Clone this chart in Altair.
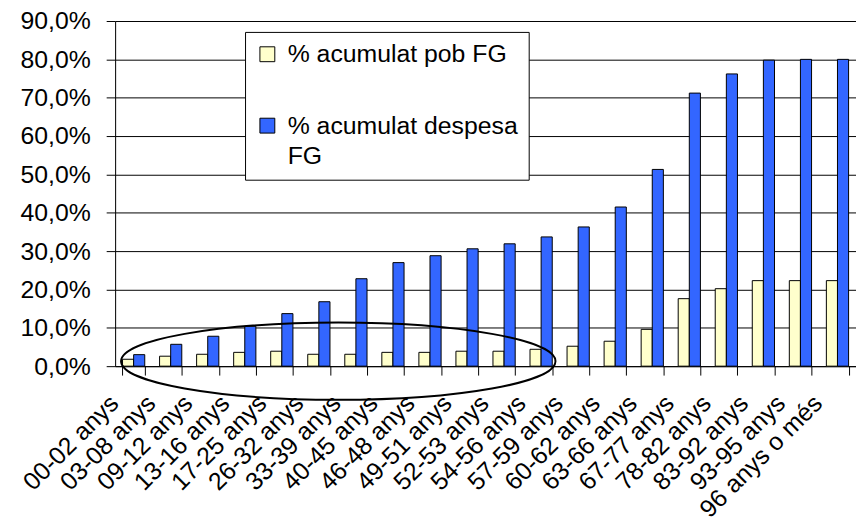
import altair as alt
import pandas as pd

categories = ["00-02 anys", "03-08 anys", "09-12 anys", "13-16 anys", "17-25 anys",
              "26-32 anys", "33-39 anys", "40-45 anys", "46-48 anys", "49-51 anys",
              "52-53 anys", "54-56 anys", "57-59 anys", "60-62 anys", "63-66 anys",
              "67-77 anys", "78-82 anys", "83-92 anys", "93-95 anys", "96 anys o més"]
pob_fg = [1.8, 2.6, 3.1, 3.6, 3.9, 3.1, 3.1, 3.6, 3.6, 3.9,
          3.9, 4.4, 5.2, 6.5, 9.6, 17.6, 20.2, 22.3, 22.3, 22.3]
despesa_fg = [3.0, 5.7, 7.8, 10.4, 13.7, 16.8, 22.8, 27.0, 28.8, 30.6,
              31.9, 33.7, 36.3, 41.5, 51.3, 71.2, 76.2, 79.8, 80.0, 80.0]
series_names = ["% acumulat pob FG", "% acumulat despesa FG"]
series_colors = ["#FFFFCC", "#3366FF"]
y_ticks = [0, 10, 20, 30, 40, 50, 60, 70, 80, 90]

rows = []
for c, p, d in zip(categories, pob_fg, despesa_fg):
    rows.append({"cat": c, "serie": series_names[0], "val": p})
    rows.append({"cat": c, "serie": series_names[1], "val": d})
df = pd.DataFrame(rows)

FONT = "Liberation Sans"

bars = alt.Chart(df).mark_bar(stroke="black", strokeWidth=1).encode(
    x=alt.X("cat:N", sort=categories, title=None,
            scale=alt.Scale(paddingInner=0.4, paddingOuter=0.2),
            axis=alt.Axis(labelAngle=-45, labelAlign="right", labelBaseline="middle",
                          labelPadding=24, labelOffset=-20, tickBand="extent",
                          tickSize=9, tickColor="black", tickWidth=1,
                          domainColor="black", domainWidth=1, grid=False,
                          labelFontSize=25, labelFont=FONT, labelColor="black",
                          labelOverlap=False, labelLimit=400)),
    xOffset=alt.XOffset("serie:N", sort=series_names,
                        scale=alt.Scale(domain=series_names, paddingInner=0, paddingOuter=0)),
    y=alt.Y("val:Q", title=None, scale=alt.Scale(domain=[0, 90], nice=False),
            axis=alt.Axis(values=y_ticks,
                          labelExpr="replace(format(datum.value, '.1f'), '.', ',') + '%'",
                          tickSize=9, tickColor="black", tickWidth=1,
                          domainColor="black", domainWidth=1,
                          grid=True, gridColor="black", gridWidth=1, gridOpacity=1,
                          labelPadding=16, labelFontSize=25, labelFont=FONT,
                          labelColor="black")),
    color=alt.Color("serie:N", sort=series_names,
                    scale=alt.Scale(domain=series_names, range=series_colors),
                    legend=alt.Legend(
                        title=None, orient="none", legendX=131, legendY=11,
                        fillColor="white", strokeColor="black",
                        padding=10, cornerRadius=0,
                        symbolType="square", symbolSize=225,
                        symbolStrokeColor="black", symbolStrokeWidth=1,
                        symbolOpacity=1,
                        labelFont=FONT, labelFontSize=25, labelColor="black",
                        labelLimit=400, labelOffset=8, rowPadding=46,
                        labelExpr="datum.label == '% acumulat despesa FG' ? ['% acumulat despesa', 'FG'] : datum.label")),
)

ellipse_df = pd.DataFrame({"k": [0]})
ellipse = alt.Chart(ellipse_df).mark_point(
    shape="M -1 0 A 1 0.178 0 1 1 1 0 A 1 0.178 0 1 1 -1 0 Z",
    size=191844, filled=False, color="black", strokeWidth=2, opacity=1,
).encode(x=alt.value(225), y=alt.value(343))

chart = alt.layer(bars, ellipse).properties(
    width=747, height=348,
    autosize=alt.AutoSizeParams(type="none"),
    padding={"left": 108, "top": 11, "right": 0, "bottom": 154},
).configure_view(strokeWidth=0).configure(
    style={"guide-label": {"lineHeight": 31}}
)

chart.save("out.html", embed_options={"renderer": "svg", "actions": False})
